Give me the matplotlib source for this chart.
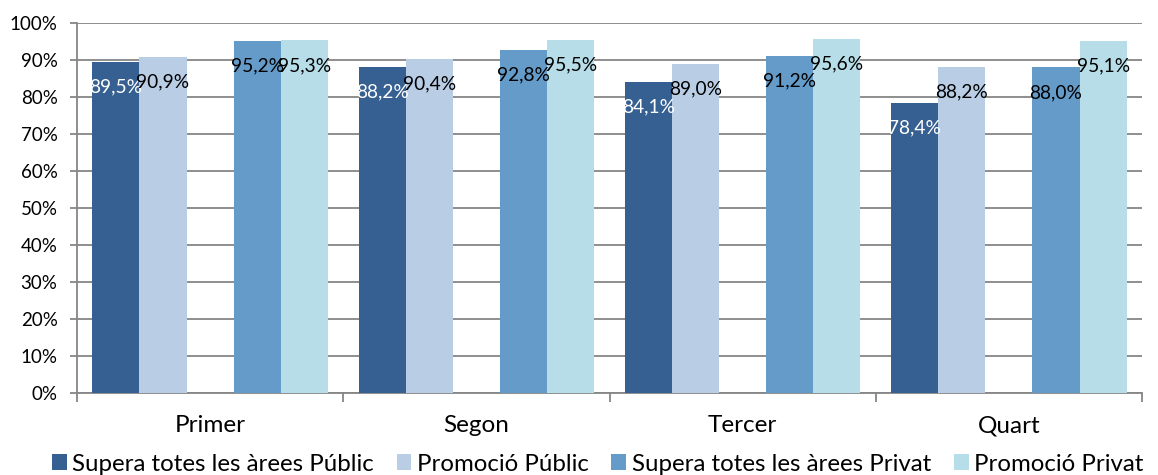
import matplotlib.pyplot as plt
import numpy as np

#
# Percentatge d'alumnes per trimestre, públic vs privat
#
categories = ['Primer', 'Segon', 'Tercer', 'Quart']
series_names = ['Supera totes les àrees Públic', 'Promoció Públic',
                'Supera totes les àrees Privat', 'Promoció Privat']
supera_public = [89.5, 88.2, 84.1, 78.4]
promocio_public = [90.9, 90.4, 89.0, 88.2]
supera_privat = [95.2, 92.8, 91.2, 88.0]
promocio_privat = [95.3, 95.5, 95.6, 95.1]

colors = ['#376092', '#B9CDE5', '#659BC8', '#B7DEE8']
label_colors = ['white', 'black', 'black', 'black']
grid_color = '#868686'

plt.rcParams['font.family'] = ['Lato', 'DejaVu Sans']

fig = plt.figure(figsize=(11.58, 4.75), dpi=100)
ax = fig.add_axes([0.0665, 0.1726, 0.9862 - 0.0665, 0.9516 - 0.1726])

x = np.arange(len(categories))
w = 0.177
# the middle slot stays empty (as in the original chart)
slots = [-2, -1, 1, 2]
all_values = [supera_public, promocio_public, supera_privat, promocio_privat]

for vals, slot, col, lcol, name in zip(all_values, slots, colors, label_colors, series_names):
    bars = ax.bar(x + slot * w, vals, w, color=col, label=name, zorder=3)
    for b, v in zip(bars, vals):
        ax.annotate(('%.1f%%' % v).replace('.', ','),
                    (b.get_x() + b.get_width() / 2, v),
                    xytext=(0, -25), textcoords='offset pixels',
                    ha='center', va='center', fontsize=13.8, color=lcol, zorder=5)

ax.set_xlim(-0.5, len(categories) - 0.5)
ax.set_ylim(0, 100)
ax.set_yticks(np.arange(0, 101, 10))
ax.set_yticklabels(['%d%%' % t for t in range(0, 101, 10)], fontsize=13.5)
ax.yaxis.grid(True, color=grid_color, linewidth=1.3, zorder=0)
ax.tick_params(axis='y', length=5, width=1.3, color=grid_color, pad=9)

ax.set_xticks(x)
ax.set_xticklabels(categories, fontsize=17.5)
ax.tick_params(axis='x', which='major', length=0, pad=16)
ax.set_xticks(np.arange(-0.5, len(categories), 1), minor=True)
ax.tick_params(axis='x', which='minor', length=6.5, width=1.3, color=grid_color)

for side in ['top', 'right']:
    ax.spines[side].set_visible(False)
for side in ['left', 'bottom']:
    ax.spines[side].set_color(grid_color)
    ax.spines[side].set_linewidth(1.3)

fig.legend(loc='center', bbox_to_anchor=(0.516, 0.023), ncol=4, frameon=False,
           fontsize=17.3, handlelength=0.62, handleheight=0.62, handletextpad=0.22,
           columnspacing=0.95, borderpad=0, borderaxespad=0)

fig.savefig('out.png', dpi=100)
